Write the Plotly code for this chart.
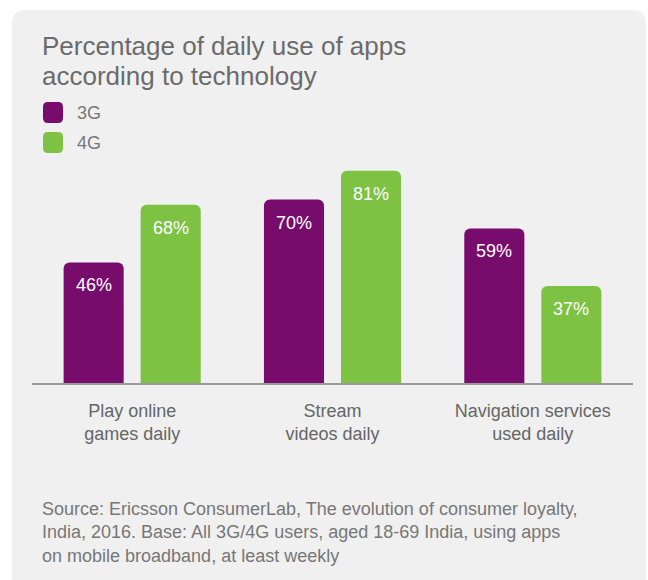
import plotly.graph_objects as go

# ---- data ----
categories = ["Play online<br>games daily", "Stream<br>videos daily", "Navigation services<br>used daily"]
series_names = ["3G", "4G"]
values_3g = [46, 70, 59]
values_4g = [68, 81, 37]
title_lines = ["Percentage of daily use of apps", "according to technology"]
source_text = ("Source: Ericsson ConsumerLab, The evolution of consumer loyalty,<br>"
               "India, 2016. Base: All 3G/4G users, aged 18-69 India, using apps<br>"
               "on mobile broadband, at least weekly")

# ---- style ----
PURPLE = "#780c6d"
GREEN = "#7dc243"
PANEL = "#f0f0f0"
FONT = "Liberation Sans, Arial, Helvetica, sans-serif"
W_FIG, H_FIG = 648, 580
L, R, T, B = 32, 633, 121, 383  # plot area in pixels
PW, PH = R - L, B - T


def px(x):
    return (x - L) / PW


def py(y):
    return (B - y) / PH


def rrect(x0, y0, x1, y1, r, top_only=False):
    rb = 0 if top_only else r
    pts = []
    pts.append(f"M {px(x0)},{py(y0 + r)}")
    pts.append(f"Q {px(x0)},{py(y0)} {px(x0 + r)},{py(y0)}")
    pts.append(f"L {px(x1 - r)},{py(y0)}")
    pts.append(f"Q {px(x1)},{py(y0)} {px(x1)},{py(y0 + r)}")
    pts.append(f"L {px(x1)},{py(y1 - rb)}")
    if rb:
        pts.append(f"Q {px(x1)},{py(y1)} {px(x1 - rb)},{py(y1)}")
    pts.append(f"L {px(x0 + rb)},{py(y1)}")
    if rb:
        pts.append(f"Q {px(x0)},{py(y1)} {px(x0)},{py(y1 - rb)}")
    pts.append("Z")
    return " ".join(pts)


fig = go.Figure()
series = [(series_names[0], values_3g, PURPLE), (series_names[1], values_4g, GREEN)]
for name, vals, col in series:
    fig.add_trace(go.Bar(x=categories, y=vals, name=name, marker_color=col,
                         marker_line_width=0, showlegend=False, hoverinfo="skip"))

annotations = []
offset = 0.192
for si, (name, vals, col) in enumerate(series):
    for i, v in enumerate(vals):
        annotations.append(dict(
            x=i + (-offset if si == 0 else offset), y=v, xref="x", yref="y",
            text=f"{v}%", showarrow=False, xanchor="center", yanchor="middle",
            yshift=-23, font=dict(family=FONT, size=18, color="white")))

# title
for k, line in enumerate(title_lines):
    annotations.append(dict(
        x=px(40), y=py(46 + 30 * k), xref="paper", yref="paper", text=line,
        showarrow=False, xanchor="left", yanchor="middle",
        font=dict(family=FONT, size=26, color="#6b6b6b")))

# panel + legend
shapes = [dict(type="path", path=rrect(12, 10, 646, 640, 14, top_only=True),
               xref="paper", yref="paper", fillcolor=PANEL, line=dict(width=0),
               layer="below")]
leg_y = [102, 132]
for k, (name, vals, col) in enumerate(series):
    shapes.append(dict(type="path", path=rrect(43, leg_y[k], 63, leg_y[k] + 21, 5),
                       xref="paper", yref="paper", fillcolor=col, line=dict(width=0)))
    annotations.append(dict(
        x=px(75), y=py(leg_y[k] + 11), xref="paper", yref="paper", text=name,
        showarrow=False, xanchor="left", yanchor="middle",
        font=dict(family=FONT, size=18, color="#777777")))

# source
annotations.append(dict(
    x=px(40), y=py(532), xref="paper", yref="paper", text=source_text,
    showarrow=False, xanchor="left", yanchor="middle", align="left",
    font=dict(family=FONT, size=18, color="#777777")))

fig.update_layout(
    width=W_FIG, height=H_FIG, autosize=False,
    margin=dict(l=L, r=W_FIG - R, t=T, b=H_FIG - B, pad=0),
    paper_bgcolor="white", plot_bgcolor="rgba(0,0,0,0)",
    barmode="group", bargap=0.231, bargroupgap=0.22, barcornerradius=6,
    annotations=annotations, shapes=shapes, showlegend=False,
    xaxis=dict(range=[-0.5, 2.5], showline=True, linecolor="#9a9a9a", linewidth=2,
               ticks="", showgrid=False, zeroline=False, ticklabelstandoff=10,
               tickfont=dict(family=FONT, size=18, color="#666666"), fixedrange=True),
    yaxis=dict(range=[0, 100], visible=False, showgrid=False, fixedrange=True),
)

fig.write_html("out.html")
